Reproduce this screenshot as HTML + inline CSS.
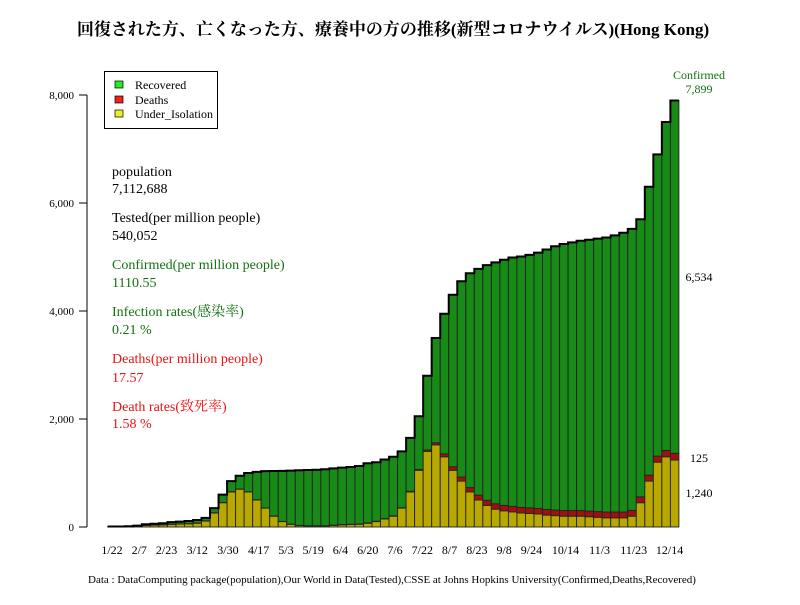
<!DOCTYPE html>
<html><head><meta charset="utf-8"><style>
body{margin:0;background:#fff;}
svg text{font-family:"Liberation Serif","Noto Serif CJK SC","Noto Sans CJK JP",serif;}
</style></head><body>
<svg id="chart" width="800" height="600" viewBox="0 0 800 600" xmlns="http://www.w3.org/2000/svg">
<rect width="800" height="600" fill="#fff"/>
<text x="393" y="35" text-anchor="middle" font-size="17" font-weight="bold">回復された方、亡くなった方、療養中の方の推移(新型コロナウイルス)(Hong Kong)</text>
<g id="bars"></g>
<g id="yaxis"></g>
<g id="xaxis"></g>
<g>
<rect x="104.5" y="71.5" width="113" height="57" fill="#fff" stroke="#000"/>
<rect x="115" y="81" width="8" height="7" fill="#22ee22" stroke="#000" stroke-width="0.7"/>
<text x="135" y="89" font-size="12">Recovered</text>
<rect x="115" y="96" width="8" height="7" fill="#ee2222" stroke="#000" stroke-width="0.7"/>
<text x="135" y="104" font-size="12">Deaths</text>
<rect x="115" y="110" width="8" height="7" fill="#eeee22" stroke="#000" stroke-width="0.7"/>
<text x="135" y="118" font-size="12">Under_Isolation</text>
</g>
<g font-size="14">
<text x="112" y="176">population</text>
<text x="112" y="193">7,112,688</text>
<text x="112" y="222">Tested(per million people)</text>
<text x="112" y="240">540,052</text>
<text x="112" y="269" fill="#137013">Confirmed(per million people)</text>
<text x="112" y="287" fill="#137013">1110.55</text>
<text x="112" y="316" fill="#137013">Infection rates(感染率)</text>
<text x="112" y="334" fill="#137013">0.21 %</text>
<text x="112" y="363" fill="#ee1111">Deaths(per million people)</text>
<text x="112" y="382" fill="#ee1111">17.57</text>
<text x="112" y="411" fill="#ee1111">Death rates(致死率)</text>
<text x="112" y="428" fill="#ee1111">1.58 %</text>
</g>
<g font-size="12">
<text x="699" y="79" text-anchor="middle" fill="#137013">Confirmed</text>
<text x="699" y="93" text-anchor="middle" fill="#137013">7,899</text>
<text x="699" y="281" text-anchor="middle">6,534</text>
<text x="699" y="462" text-anchor="middle">125</text>
<text x="699" y="497" text-anchor="middle">1,240</text>
</g>
<text x="392" y="583" text-anchor="middle" font-size="11">Data : DataComputing package(population),Our World in Data(Tested),CSSE at Johns Hopkins University(Confirmed,Deaths,Recovered)</text>
</svg>
<script>
const dayStep = 5;
const confirmed = [10,10,14,25,50,60,70,90,100,110,130,170,350,600,850,950,1000,1020,1035,1038,1040,1045,1050,1055,1060,1070,1085,1100,1110,1130,1180,1200,1250,1300,1400,1650,2050,2800,3500,3950,4300,4550,4700,4780,4850,4900,4950,4990,5010,5040,5080,5140,5200,5240,5270,5300,5320,5340,5360,5400,5450,5520,5700,6300,6900,7500,7899];
const isolation = [10,10,14,20,30,35,40,50,55,60,70,110,260,450,650,700,650,500,350,200,100,50,25,20,20,20,30,40,45,50,70,100,150,200,350,650,1050,1400,1520,1300,1050,850,650,500,400,330,300,280,260,250,240,220,210,200,200,200,190,180,170,170,170,200,450,850,1200,1300,1240];
const deaths = [0,0,0,0,1,1,2,2,2,3,4,4,4,4,4,4,4,4,4,4,4,4,4,4,4,4,4,6,6,6,7,7,7,7,8,12,18,28,40,55,65,75,80,90,95,100,100,102,103,104,104,105,105,105,105,105,105,105,107,108,108,108,109,110,113,118,125];
const tickLabels = ["1/22","2/7","2/23","3/12","3/30","4/17","5/3","5/19","6/4","6/20","7/6","7/22","8/7","8/23","9/8","9/24","10/14","11/3","11/23","12/14"];
const tickDays = [0,16,32,50,68,86,102,118,134,150,166,182,198,214,230,246,266,286,306,327];
const yTicks = [0,2000,4000,6000,8000];

const NS="http://www.w3.org/2000/svg";
const x = d => 112 + d*1.705;
const y = v => 527 - v*0.054;
function mk(tag, attrs, parent){const e=document.createElementNS(NS,tag);for(const k in attrs)e.setAttribute(k,attrs[k]);parent.appendChild(e);return e;}
const bars=document.getElementById('bars');
const w = dayStep*1.705;
let topPts=[];
confirmed.forEach((c,i)=>{
  const d=i*dayStep, cx=x(d), x0=cx-w/2;
  const iso=isolation[i], de=deaths[i], rec=Math.max(0,c-iso-de);
  const r1=mk('rect',{x:x0,y:y(iso),width:w,height:y(0)-y(iso),fill:'#b8a800',stroke:'#222','stroke-width':0.9},bars);
  
  
  const r2=mk('rect',{x:x0,y:y(iso+de),width:w,height:y(iso)-y(iso+de),fill:'#a01010',stroke:'#222','stroke-width':0.9},bars);
  
  
  const r3=mk('rect',{x:x0,y:y(iso+de+rec),width:w,height:y(iso+de)-y(iso+de+rec),fill:'#178a17',stroke:'#222','stroke-width':0.9},bars);
  
  
  topPts.push(x0+','+y(c), (x0+w)+','+y(c));
});
const tl=mk('polyline',{points:topPts.join(' '),fill:'none',stroke:'#000','stroke-width':2},bars);



const ya=document.getElementById('yaxis');
mk('line',{x1:87,y1:y(0),x2:87,y2:y(8000),stroke:'#000'},ya);
yTicks.forEach(t=>{
  mk('line',{x1:79,y1:y(t),x2:87,y2:y(t),stroke:'#000'},ya);
  const tx=mk('text',{x:74,y:y(t)+4,'text-anchor':'end','font-size':11},ya);
  tx.textContent=t.toLocaleString('en-US');
  
  
});
const xa=document.getElementById('xaxis');
tickLabels.forEach((l,i)=>{
  const tx=mk('text',{x:x(tickDays[i]),y:554,'text-anchor':'middle','font-size':12},xa);
  tx.textContent=l;
  
  
});
</script>
</body></html>
